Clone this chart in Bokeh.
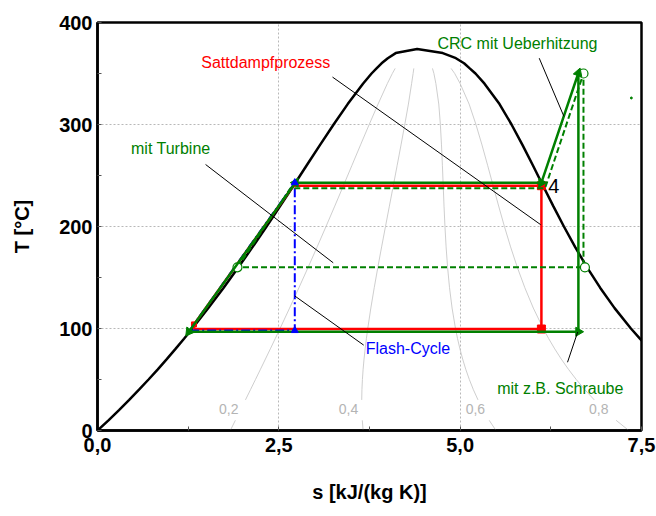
import numpy as np
from bokeh.plotting import figure
from bokeh.models import FixedTicker
from bokeh.core.properties import value
from bokeh.embed import file_html
from bokeh.resources import INLINE

# ---- saturation curve of water (T in degC, s in kJ/(kg K)) ----
T_sat = [0.01, 10, 20, 30, 40, 50, 60, 70, 80, 90, 100, 120, 140, 160, 180, 200,
         220, 240, 260, 280, 300, 320, 340, 350, 355, 360, 365, 370]
s_liq = [0.0, 0.1511, 0.2965, 0.4368, 0.5724, 0.7038, 0.8313, 0.9551, 1.0756, 1.1929,
         1.3072, 1.5279, 1.7392, 1.9426, 2.1392, 2.3305, 2.5177, 2.7020, 2.8849, 3.0685,
         3.2552, 3.4494, 3.6601, 3.7784, 3.847, 3.9167, 4.0021, 4.1112]
s_vap = [9.1555, 8.8998, 8.6660, 8.4520, 8.2555, 8.0748, 7.9081, 7.7540, 7.6111, 7.4781,
         7.3541, 7.1291, 6.9294, 6.7491, 6.5841, 6.4302, 6.2840, 6.1423, 6.0019, 5.8586,
         5.7081, 5.5423, 5.3356, 5.2110, 5.132, 5.0536, 4.9412, 4.7600]
s_crit, T_crit = 4.407, 373.95

# vapour qualities of the iso-lines and their labels
qualities = [0.2, 0.4, 0.6, 0.8]
q_labels = ["0,2", "0,4", "0,6", "0,8"]
q_label_s = [1.81, 3.46, 5.21, 6.91]
q_label_T = [21, 21, 21, 21]

# ---- cycles ----
# Sattdampfprozess (red)
red_s = [6.12, 1.33, 1.33, 2.70, 6.12, 6.12]
red_T = [99.5, 99.5, 104, 240, 240, 99.5]
red_mk_s = [1.33, 6.12, 6.12]
red_mk_T = [104, 240, 99.5]

# Flash-Cycle (blue)
blue_s = [1.27, 2.72, 2.72, 1.27]
blue_T = [98, 243, 98, 98]
blue_mk_s = [2.72, 2.72]
blue_mk_T = [243, 98]

# mit Turbine (green dashed)
gd_s = [1.93, 2.66, 6.17, 6.70, 6.70, 1.93]
gd_T = [160, 237.5, 237.5, 350, 160, 160]
gd_mk_s = [1.93, 6.72, 6.70]
gd_mk_T = [160, 160, 350]

# CRC mit Ueberhitzung (green solid)
gs_s = [1.26, 2.73, 6.12, 6.63, 6.63, 1.26]
gs_T = [96.8, 243, 243, 350.5, 96.8, 96.8]
gs_mk_s = [1.26, 2.73, 6.12, 6.63, 6.63]
gs_mk_T = [96.8, 243, 243, 350.5, 96.8]

# ---- annotations ----
ann_text = ["CRC mit Ueberhitzung", "Sattdampfprozess", "mit Turbine", "Flash-Cycle", "mit z.B. Schraube"]
ann_s = [5.79, 2.32, 1.01, 4.28, 6.38]
ann_T = [379, 361, 276, 80, 41]
ann_color = ["#008000", "#ff0000", "#008000", "#0000ff", "#008000"]

lead_s0 = [6.09, 3.24, 1.49, 2.72, 6.48]
lead_T0 = [365, 346.5, 260.8, 131.9, 66.9]
lead_s1 = [6.43, 6.11, 3.25, 3.67, 6.62]
lead_T1 = [308, 201.8, 164.4, 83.7, 96.5]

x_ticks = [0, 2.5, 5.0, 7.5]
x_tick_labels = ["0,0", "2,5", "5,0", "7,5"]
y_ticks = [0, 100, 200, 300, 400]

p = figure(width=656, height=516, x_range=(0, 7.5), y_range=(0, 400),
           output_backend="svg", toolbar_location=None,
           min_border_left=97, min_border_right=15, min_border_top=22, min_border_bottom=86,
           x_axis_label="s [kJ/(kg K)]", y_axis_label="T [°C]")
p.background_fill_color = "white"
p.border_fill_color = "white"
p.outline_line_color = "black"
p.outline_line_width = 2.5

p.xaxis.ticker = FixedTicker(ticks=x_ticks, minor_ticks=[1.25, 3.75, 6.25])
p.yaxis.ticker = FixedTicker(ticks=y_ticks, minor_ticks=[50, 150, 250, 350])
p.xaxis.major_label_overrides = {t: l for t, l in zip(x_ticks, x_tick_labels)}
for ax in (p.xaxis[0], p.yaxis[0]):
    ax.axis_line_color = "black"
    ax.axis_line_width = 2.5
    ax.major_tick_in = 4
    ax.major_tick_out = 0
    ax.minor_tick_in = 4
    ax.minor_tick_out = 0
    ax.major_tick_line_color = "#555555"
    ax.minor_tick_line_color = "#555555"
    ax.major_label_text_font = "Liberation Sans"
    ax.major_label_text_font_style = "bold"
    ax.major_label_text_font_size = "20px"
    ax.major_label_text_color = "black"
    ax.axis_label_text_font = "Liberation Sans"
    ax.axis_label_text_font_style = "bold"
    ax.axis_label_text_font_size = "20px"
    ax.axis_label_text_color = "black"
p.yaxis.major_label_standoff = 5
p.yaxis.axis_label_standoff = 23
p.xaxis.major_label_standoff = 7
p.xaxis.axis_label_standoff = 26

p.xgrid.ticker = FixedTicker(ticks=x_ticks)
p.ygrid.ticker = FixedTicker(ticks=y_ticks)
for g in (p.xgrid[0], p.ygrid[0]):
    g.grid_line_color = "#b8b8b8"
    g.grid_line_dash = "2 2"
    g.grid_line_width = 1

# quality iso-lines (gap around the labels between 10 and 30 degC)
sl = np.array(s_liq)
sv = np.array(s_vap)
Ts = np.array(T_sat)
keep = Ts <= 355
for q in qualities:
    s_line = sl[keep] + q * (sv[keep] - sl[keep])
    T_line = Ts[keep]
    xs = np.concatenate([s_line[:2], [np.nan], s_line[3:]])
    ys = np.concatenate([T_line[:2], [np.nan], T_line[3:]])
    p.line(xs, ys, line_color="#c8c8c8", line_width=0.9)
p.text(q_label_s, q_label_T, text=q_labels, text_color="#b4b4b4",
       text_font=value("Liberation Sans"), text_font_size="14px",
       text_align="center", text_baseline="middle")

# saturation curve
sat_s = s_liq + [s_crit] + s_vap[::-1]
sat_T = T_sat + [T_crit] + T_sat[::-1]
p.line(sat_s, sat_T, line_color="black", line_width=2.5)

# cycles
p.line(red_s, red_T, line_color="#ff0000", line_width=2.5)
p.scatter(red_mk_s, red_mk_T, marker="square", size=[5, 8, 8], fill_color="#ff0000", line_color="#ff0000")

p.line(blue_s, blue_T, line_color="#0000ff", line_width=2, line_dash="9 3 2 3")

p.line(gd_s, gd_T, line_color="#008000", line_width=2, line_dash="6 3")
p.scatter(gd_mk_s, gd_mk_T, marker="circle", size=9, fill_color="white", line_color="#008000", line_width=1.2)

p.line(gs_s, gs_T, line_color="#008000", line_width=2.5)
p.scatter(gs_mk_s, gs_mk_T, marker="triangle", size=9, fill_color="#008000", line_color="#008000",
          angle=[2.5, 1.57, -1.57, -0.33, -1.57])
p.scatter(blue_mk_s, blue_mk_T, marker="triangle", size=7, fill_color="#0000ff", line_color="#0000ff")

# stray point
p.scatter([7.36], [326], marker="circle", size=2, fill_color="#008000", line_color="#008000")

# leader lines and annotations
p.segment(lead_s0, lead_T0, lead_s1, lead_T1, line_color="black", line_width=1)
p.text(ann_s, ann_T, text=ann_text, text_color=ann_color,
       text_font=value("Liberation Sans"), text_font_size="16px",
       text_align="center", text_baseline="middle")
p.text([6.29], [240], text=["4"], text_color="black",
       text_font=value("Liberation Sans"), text_font_size="20px",
       text_align="center", text_baseline="middle")

open("out.html", "w").write(file_html(p, INLINE))
